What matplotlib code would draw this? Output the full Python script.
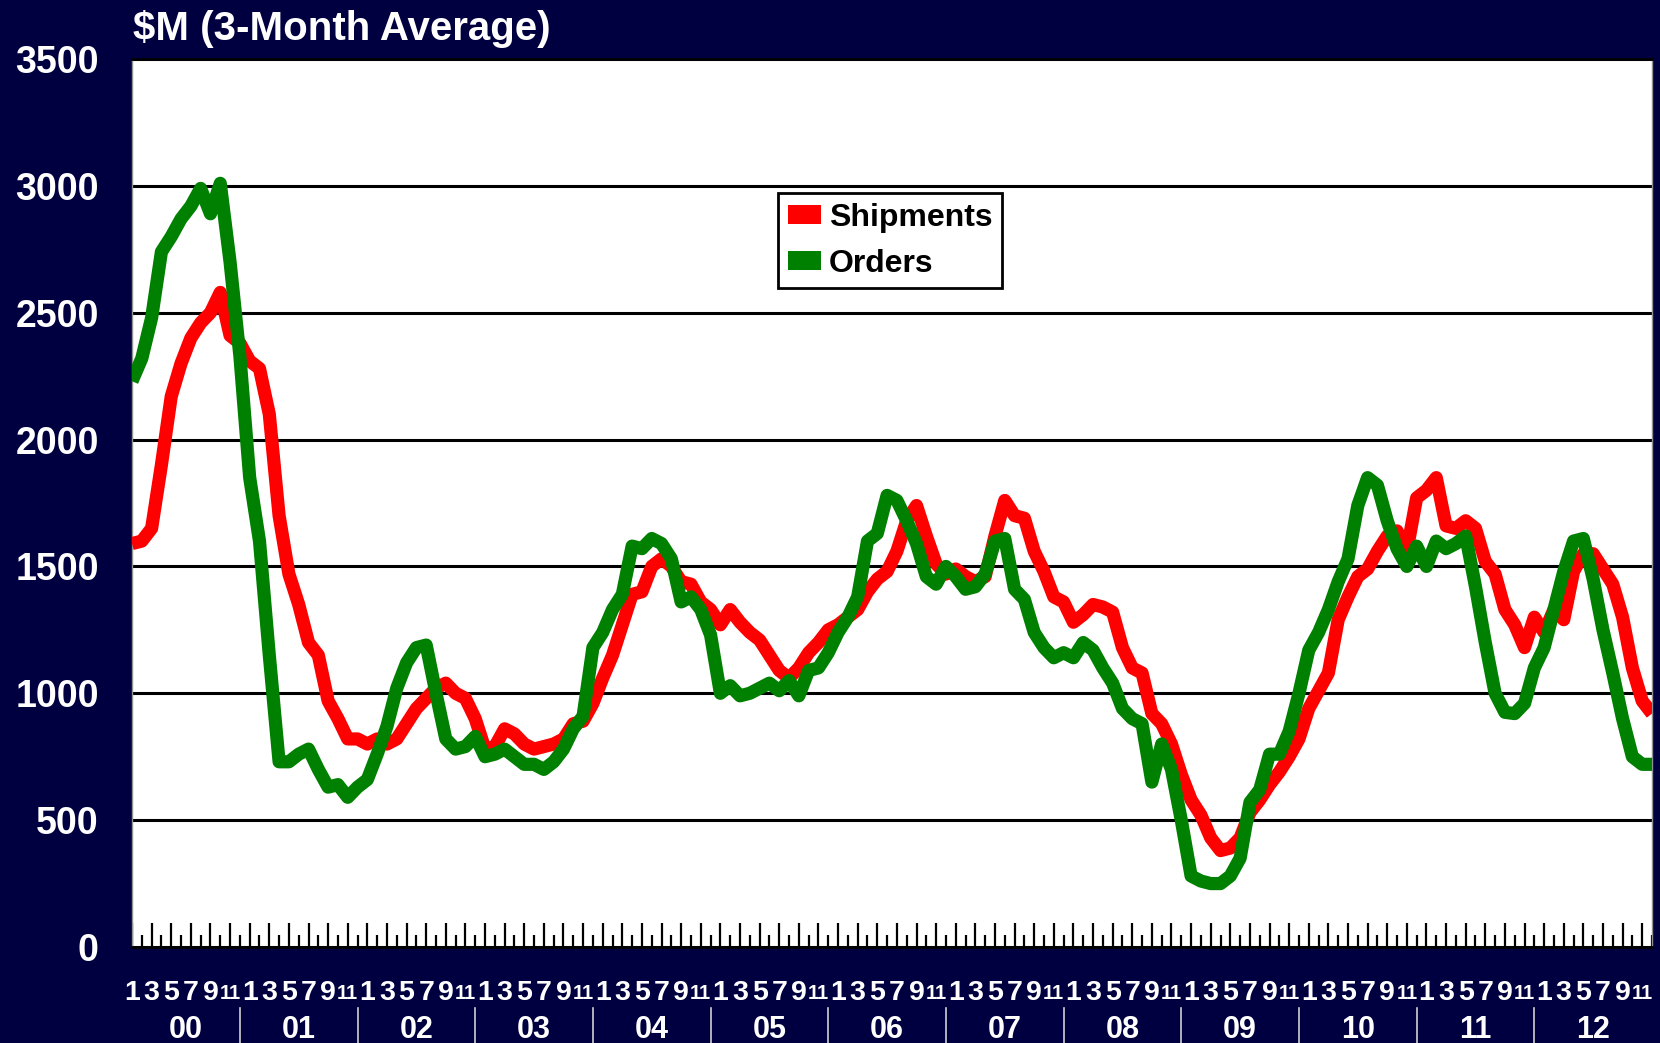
import matplotlib
matplotlib.use("Agg")
import matplotlib.pyplot as plt
from matplotlib.patches import Patch
from matplotlib.transforms import blended_transform_factory

plt.rcParams['font.family'] = ['Liberation Sans', 'DejaVu Sans']
plt.rcParams['font.weight'] = 'bold'

# monthly values, Jan 2000 .. Dec 2012 (one row per year)
shipments = [
    1590, 1600, 1650, 1900, 2170, 2300, 2400, 2460, 2500, 2580, 2410, 2380,
    2310, 2280, 2100, 1700, 1470, 1350, 1200, 1150, 970, 900, 820, 820,
    800, 820, 800, 820, 880, 940, 980, 1020, 1040, 1000, 980, 900,
    780, 790, 860, 840, 800, 780, 790, 800, 820, 880, 890, 960,
    1060, 1150, 1270, 1390, 1400, 1500, 1530, 1500, 1440, 1430, 1360, 1330,
    1270, 1330, 1280, 1240, 1210, 1150, 1090, 1060, 1100, 1160, 1200, 1250,
    1270, 1300, 1330, 1400, 1450, 1480, 1560, 1680, 1740, 1620, 1510, 1470,
    1490, 1460, 1440, 1460, 1620, 1760, 1700, 1690, 1560, 1480, 1380, 1360,
    1280, 1310, 1350, 1340, 1320, 1180, 1100, 1080, 920, 880, 800, 680,
    580, 520, 430, 380, 390, 430, 530, 580, 640, 690, 750, 820,
    940, 1010, 1080, 1290, 1380, 1460, 1490, 1560, 1620, 1640, 1560, 1770,
    1800, 1850, 1660, 1650, 1680, 1650, 1520, 1470, 1330, 1270, 1180, 1300,
    1240, 1330, 1290, 1480, 1550, 1550, 1490, 1430, 1300, 1100, 970, 920,
]
orders = [
    2230, 2320, 2480, 2740, 2800, 2870, 2920, 2990, 2890, 3010, 2700, 2330,
    1850, 1600, 1150, 730, 730, 760, 780, 700, 630, 640, 590, 630,
    660, 760, 870, 1020, 1120, 1180, 1190, 1000, 820, 780, 790, 830,
    750, 760, 780, 750, 720, 720, 700, 730, 780, 860, 910, 1180,
    1240, 1330, 1390, 1580, 1570, 1610, 1590, 1530, 1360, 1380, 1330, 1230,
    1000, 1030, 990, 1000, 1020, 1040, 1010, 1050, 990, 1090, 1100, 1160,
    1240, 1300, 1380, 1600, 1630, 1780, 1760, 1680, 1590, 1460, 1430, 1500,
    1460, 1410, 1420, 1470, 1600, 1610, 1410, 1370, 1240, 1180, 1140, 1160,
    1140, 1200, 1170, 1100, 1040, 940, 900, 880, 650, 800, 700, 500,
    280, 260, 250, 250, 280, 350, 570, 620, 760, 760, 850, 1000,
    1170, 1240, 1330, 1440, 1530, 1740, 1850, 1820, 1680, 1570, 1500, 1580,
    1500, 1600, 1570, 1590, 1620, 1420, 1200, 1000, 925, 920, 960, 1100,
    1180, 1330, 1480, 1600, 1610, 1450, 1250, 1080, 900, 750, 720, 720,
]
years = ['00', '01', '02', '03', '04', '05', '06', '07', '08', '09', '10', '11', '12']
year_edges = [0, 11, 23, 35, 47, 59, 71, 83, 95, 107, 119, 131, 143, 155]

bg = '#000040'
fig = plt.figure(figsize=(16.6, 10.43), dpi=100, facecolor=bg)
ax = fig.add_axes([132 / 1660, 96 / 1043, 1520 / 1660, 888 / 1043])
ax.set_facecolor('white')

x = list(range(len(shipments)))
ax.plot(x, shipments, color='#FF0000', lw=9.5, solid_joinstyle='round',
        solid_capstyle='butt', zorder=3)
ax.plot(x, orders, color='#008000', lw=9.5, solid_joinstyle='round',
        solid_capstyle='butt', zorder=3)

ax.set_xlim(0, len(shipments) - 1)
ax.set_ylim(0, 3500)
ax.set_yticks(range(0, 3501, 500))
ax.yaxis.grid(True, color='black', lw=2.2)
ax.set_axisbelow(True)
ax.tick_params(axis='y', length=0, pad=24, labelsize=27, labelcolor='white')
for lab in ax.get_yticklabels():
    lab.set_fontweight('bold')

ax.set_xticks(range(0, len(shipments), 2))
ax.set_xticks(range(1, len(shipments), 2), minor=True)
ax.tick_params(axis='x', which='major', direction='in', length=17, width=1.6,
               color='black', labelbottom=False)
ax.tick_params(axis='x', which='minor', direction='in', length=9, width=1.6,
               color='black', labelbottom=False)

for side in ['left', 'right']:
    ax.spines[side].set_color('#909090')
    ax.spines[side].set_linewidth(1)
for side in ['top', 'bottom']:
    ax.spines[side].set_color('black')
    ax.spines[side].set_linewidth(2)

# month and year labels under the axis (odd months only)
# "11" is set smaller so it does not run into its neighbours
tr = blended_transform_factory(ax.transData, ax.transAxes)
for j in range(0, len(shipments), 2):
    m = j % 12 + 1
    ax.text(j, -0.052, str(m), transform=tr, ha='center', va='center',
            color='white', fontsize=14.5 if m == 11 else 20.5,
            fontweight='bold', clip_on=False)
for k, yr in enumerate(years):
    mid = (year_edges[k] + year_edges[k + 1]) / 2
    ax.text(mid, -0.094, yr, transform=tr, ha='center', va='center',
            color='white', fontsize=22, fontweight='bold', clip_on=False)
for e in year_edges[1:-1]:
    ax.plot([e, e], [-0.069, -0.115], transform=tr, color='#D0D0D0', lw=1.2,
            clip_on=False)

fig.text(133 / 1660, 1 - 29 / 1043, '$M (3-Month Average)', color='white',
         fontsize=29, fontweight='bold', ha='left', va='center')

handles = [Patch(facecolor='#FF0000', edgecolor='none', label='Shipments'),
           Patch(facecolor='#008000', edgecolor='none', label='Orders')]
leg = ax.legend(handles=handles, loc='upper left', bbox_to_anchor=(0.425, 0.849),
                borderaxespad=0, fancybox=False, framealpha=1, edgecolor='black',
                prop={'size': 23, 'weight': 'bold'}, handlelength=1.05,
                handleheight=0.55, handletextpad=0.25, labelspacing=0.5,
                borderpad=0.3)
leg.get_frame().set_linewidth(2)
leg.set_zorder(5)

fig.savefig('out.png', dpi=100, facecolor=bg)
